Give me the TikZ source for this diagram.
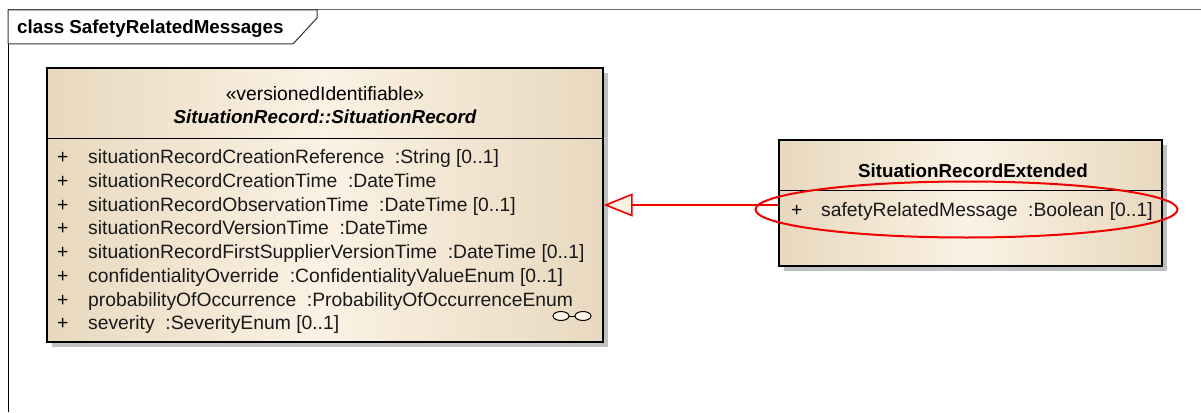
\documentclass[tikz,border=0pt]{standalone}
\usepackage{fontspec}
\setmainfont{Liberation Sans}
\usetikzlibrary{arrows.meta,shapes.geometric}
\definecolor{tanedge}{RGB}{232,216,190}
\definecolor{tanmid}{RGB}{251,242,228}
\definecolor{shadowgray}{RGB}{192,192,192}
\definecolor{umlred}{RGB}{240,0,0}
\newcommand{\regfont}{\fontsize{19.3}{22}\selectfont}
\newcommand{\boldfont}{\bfseries\fontsize{18.8}{22}\selectfont}
\tikzset{
  classbox/.style={draw=black, line width=1.3pt, left color=tanedge, right color=tanedge, middle color=tanmid, inner sep=0pt},
  shadowbox/.style={fill=shadowgray, draw=none},
  attr/.style={anchor=base west, inner sep=0pt, font=\regfont, text=black!90},
  plus/.style={anchor=base west, inner sep=0pt, font=\regfont},
  generalization/.style={draw=umlred, line width=1.6pt, -{Triangle[length=29pt, width=23pt, fill=tanmid, line width=1.6pt]}},
  divider/.style={draw=black, line width=1pt},
}
\begin{document}
\begin{tikzpicture}[x=1pt,y=-1pt]
\useasboundingbox (0,0) rectangle (1201,412);
% frame
\draw[draw=gray!80!black, line width=1pt] (8,10) -- (1201,10);
\draw[draw=black, line width=1pt] (8,10) -- (8,412);
\draw[draw=black!80, line width=1pt, fill=white] (8,10) -- (317,10) -- (317,18) -- (293,44) -- (8,44) -- cycle;
\node[anchor=base west, inner sep=0pt, font=\boldfont] (title) at (17,34) {class SafetyRelatedMessages};

% left class
\fill[shadowbox] (52,73) rectangle (608,347);
\node[classbox, minimum width=556pt, minimum height=274pt] (sr) at (325,205) {};
\draw[divider] (47,138) -- (603,138);
\node[anchor=base, inner sep=0pt, font=\regfont] (srst) at (325,100) {«versionedIdentifiable»};
\node[anchor=base, inner sep=0pt, font=\boldfont\itshape] (srname) at (325,123) {SituationRecord::SituationRecord};
\foreach \i/\t in {0/{situationRecordCreationReference\ \ :String [0..1]},
                   1/{situationRecordCreationTime\ \ :DateTime},
                   2/{situationRecordObservationTime\ \ :DateTime [0..1]},
                   3/{situationRecordVersionTime\ \ :DateTime},
                   4/{situationRecordFirstSupplierVersionTime\ \ :DateTime [0..1]},
                   5/{confidentialityOverride\ \ :ConfidentialityValueEnum [0..1]},
                   6/{probabilityOfOccurrence\ \ :ProbabilityOfOccurrenceEnum},
                   7/{severity\ \ :SeverityEnum [0..1]}} {
  \node[plus] (p\i) at (57,163.5+23.75*\i) {+};
  \node[attr] (a\i) at (88,163.5+23.75*\i) {\t};
}
% linked-attribute icon
\draw[line width=1pt, fill=tanmid] (561,316) ellipse [x radius=8, y radius=4.5];
\draw[line width=1pt, fill=tanmid] (583,316) ellipse [x radius=8, y radius=4.5];
\draw[line width=1pt] (569,316) -- (575,316);

% right class
\fill[shadowbox] (784,145) rectangle (1167,271);
\node[classbox, minimum width=383pt, minimum height=126pt] (sre) at (970.5,203) {};
\draw[divider] (779,190) -- (1162,190);
\node[anchor=base, inner sep=0pt, font=\boldfont] (srename) at (973,177) {SituationRecordExtended};
\node[plus] (pe) at (791,216) {+};
\node[attr] (ae) at (821,216) {safetyRelatedMessage\ \ :Boolean [0..1]};

% generalization
\draw[generalization] ([yshift=-2pt]sre.west) -- ([yshift=-2pt]sre.west -| sr.east);

% highlight ellipse
\draw[draw=umlred, line width=2pt] (966.5,209.5) ellipse [x radius=211, y radius=28];
\end{tikzpicture}
\end{document}
